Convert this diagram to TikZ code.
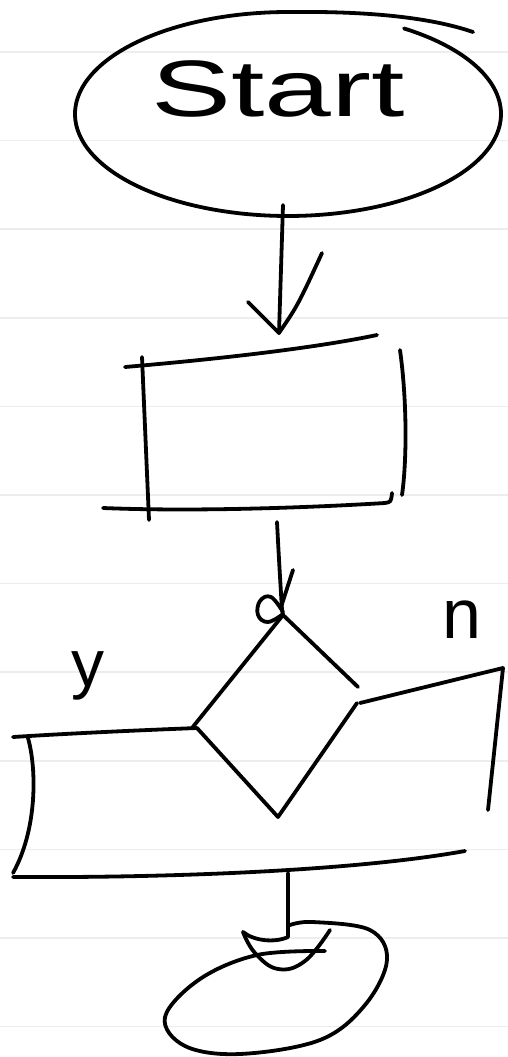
\documentclass[tikz,border=0pt]{standalone}
\usepackage{fontspec}
\setmainfont{Liberation Sans}
\begin{document}
\begin{tikzpicture}[x=1pt,y=-1pt,
  ink/.style={line width=3.8pt,line cap=round,line join=round,black},
  ruled/.style={line width=1.6pt,color=black!7},
  hand/.style={font=\fontsize{#1}{#1}\selectfont,inner sep=0pt}]
\useasboundingbox (0,0) rectangle (508,1057);
\fill[white] (0,0) rectangle (508,1057);
% notebook lines
\foreach \k in {0,...,11}{
  \draw[ruled] (0,{52+88.6*\k}) -- (508,{52+88.6*\k});
}
% ---------- start ellipse ----------
\coordinate (startC) at (288,114);
\coordinate (startTop) at (288,12);
\draw[ink] plot[domain=-57:270,samples=120,smooth] ({288+213*cos(\x)},{114+102*sin(\x)})
   .. controls (372,11) and (432,18) .. (473,32);
\node[hand=80,xscale=1.5,anchor=base] (start) at (278,116) {Start};
% ---------- arrow 1 ----------
\coordinate (a1s) at (283,205);
\coordinate (a1t) at (279,333);
\coordinate (a1l) at (248,302);
\coordinate (a1r) at (322,253);
\draw[ink] (a1s) -- (a1t);
\draw[ink] (a1l) -- (a1t) .. controls (298,305) .. (a1r);
% ---------- process box ----------
\coordinate (pTL) at (125,367);
\coordinate (pTR) at (377,335);
\coordinate (pLt) at (142,357);
\coordinate (pLb) at (149,520);
\coordinate (pBL) at (103,508);
\coordinate (pBR) at (392,493);
\coordinate (pRt) at (400,350);
\coordinate (pRb) at (402,495);
\draw[ink] (pTL) .. controls (230,358) and (320,347) .. (pTR);
\draw[ink] (pLt) -- (pLb);
\draw[ink] (pBL) .. controls (200,512) and (320,507) .. (385,503) .. controls (391,502) .. (pBR);
\draw[ink] (pRt) .. controls (407,400) and (407,460) .. (pRb);
% ---------- arrow 2 ----------
\coordinate (a2s) at (277,522);
\coordinate (dT) at (283,615);
\draw[ink] (a2s) .. controls (279,560) .. (282,610) -- (dT);
\draw[ink] (293,570) -- (281,607);
\draw[ink] plot[smooth,tension=0.7] coordinates {(283,612) (271,597) (260,601) (258,615) (268,622) (283,614)};
% ---------- decision ----------
\coordinate (dL) at (192,728);
\coordinate (dL2) at (197,728);
\coordinate (dB) at (278,817);
\coordinate (dR1) at (358,687);
\coordinate (dR2) at (357,703);
\draw[ink] (dT) -- (dL);
\draw[ink] (dT) -- (dR1);
\draw[ink] (dR2) -- (dB) -- (dL2);
% ---------- yes / no branch box ----------
\coordinate (yTL) at (13,737);
\coordinate (ySt) at (28,738);
\coordinate (ySb) at (13,873);
\coordinate (bBL) at (13,877);
\coordinate (bBR) at (465,851);
\coordinate (nS) at (360,703);
\coordinate (nTR) at (503,668);
\coordinate (nRb) at (488,810);
\draw[ink] (dL2) .. controls (120,731) and (60,734) .. (yTL);
\draw[ink] (ySt) .. controls (37,770) and (37,830) .. (ySb);
\draw[ink] (bBL) .. controls (180,878) and (360,870) .. (bBR);
\draw[ink] (nS) -- (nTR) -- (nRb);
\node[hand=66] (ylabel) at (88,676) {y};
\node[hand=70] (nlabel) at (462,620) {n};
% ---------- arrow 3 ----------
\coordinate (a3s) at (288,873);
\coordinate (a3t) at (288,937);
\draw[ink] (a3s) -- (a3t) .. controls (275,943) and (254,941) .. (243,932);
\draw[ink] plot[smooth,tension=0.7] coordinates {(243,932) (255,953) (278,969) (305,961) (330,930)};
% ---------- end ellipse ----------
\draw[ink] plot[smooth,tension=0.6] coordinates {(325,951) (257,955) (200,979) (165,1017) (185,1046) (240,1054) (320,1040) (365,1005) (387,960) (370,930) (313,922) (290,925)};
\end{tikzpicture}
\end{document}
